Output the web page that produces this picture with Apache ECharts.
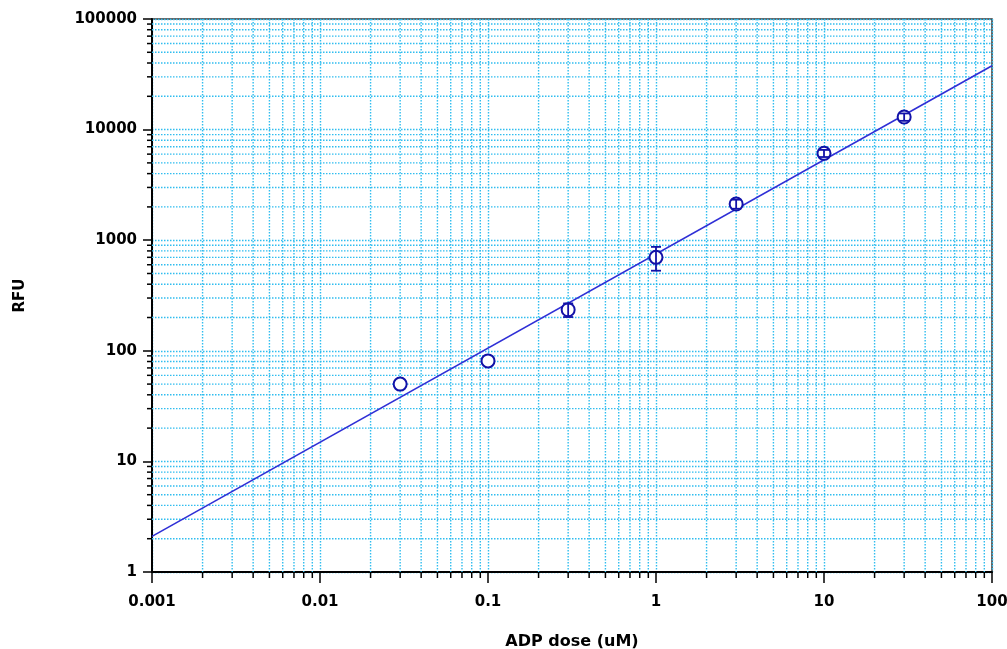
<!DOCTYPE html>
<html>
<head>
<meta charset="utf-8">
<script src="https://cdn.jsdelivr.net/npm/echarts@6/dist/echarts.min.js"></script>
<style>
html,body{margin:0;padding:0;background:#fff;}
#chart{width:1007px;height:649px;}
</style>
</head>
<body>
<div id="chart"></div>
<script>
// ---- data ----
const doses = [0.03, 0.1, 0.3, 1, 3, 10, 30];          // ADP dose (uM)
const rfuMean = [50, 81, 235, 700, 2125, 6100, 13000]; // RFU
const rfuSD = [0, 0, 33, 170, 200, 450, 1000];         // error bar half-length
const fitX = [0.001, 100];
const fitY = [2.1, 37800];
const xTickLabels = ['0.001', '0.01', '0.1', '1', '10', '100'];
const yTickLabels = ['1', '10', '100', '1000', '10000', '100000'];
const xDecades = [-3, -2, -1, 0, 1];
const yDecades = [0, 1, 2, 3, 4];
const minorMult = [2, 3, 4, 5, 6, 7, 8, 9];

const X_MIN = 0.001, X_MAX = 100, Y_MIN = 1, Y_MAX = 100000;
const gridColor = '#30bdef';
const dash = [1.5, 1.5];
const font = '"DejaVu Sans", sans-serif';

const xMinor = [];
xDecades.forEach(k => minorMult.forEach(m => xMinor.push([m * Math.pow(10, k), Y_MIN])));
const yMinor = [];
yDecades.forEach(k => minorMult.forEach(m => yMinor.push([X_MIN, m * Math.pow(10, k)])));

function labelFor(arr, minExp) {
  return function (v) {
    const e = Math.round(Math.log10(v)) - minExp;
    return arr[e] !== undefined ? arr[e] : '';
  };
}

const chart = echarts.init(document.getElementById('chart'), null, {renderer: 'canvas'});
chart.setOption({
  animation: false,
  backgroundColor: '#fff',
  grid: {left: 152, right: 15, top: 19, bottom: 77, containLabel: false, outerBoundsMode: 'none',
         show: true, borderColor: '#333', borderWidth: 1.5, backgroundColor: 'transparent'},
  xAxis: {
    type: 'log', logBase: 10, min: X_MIN, max: X_MAX, splitNumber: 5,
    name: 'ADP dose (uM)', nameLocation: 'middle', nameGap: 62,
    nameTextStyle: {fontFamily: font, fontWeight: 'bold', fontSize: 16, color: '#000'},
    axisLine: {onZero: false, lineStyle: {color: '#000', width: 2}},
    axisTick: {show: true, length: 11, lineStyle: {color: '#000', width: 1.5}},
    axisLabel: {margin: 23, fontFamily: font, fontWeight: 'bold', fontSize: 15, color: '#000', formatter: labelFor(xTickLabels, -3)},
    splitLine: {show: true, lineStyle: {color: gridColor, width: 1.4, type: dash}}
  },
  yAxis: {
    type: 'log', logBase: 10, min: Y_MIN, max: Y_MAX, splitNumber: 5,
    name: 'RFU', nameLocation: 'middle', nameGap: 124,
    nameTextStyle: {fontFamily: font, fontWeight: 'bold', fontSize: 15, color: '#000'},
    axisLine: {onZero: false, lineStyle: {color: '#000', width: 2}},
    axisTick: {show: true, length: 9, lineStyle: {color: '#000', width: 1.5}},
    axisLabel: {margin: 15, fontFamily: font, fontWeight: 'bold', fontSize: 15, color: '#000', formatter: labelFor(yTickLabels, 0)},
    splitLine: {show: true, lineStyle: {color: gridColor, width: 1.4, type: dash}}
  },
  series: [
    {
      type: 'custom', name: 'xMinor', silent: true, clip: false, z: 1,
      data: xMinor,
      renderItem: function (params, api) {
        const cs = params.coordSys;
        const x = api.coord([api.value(0), Y_MIN])[0];
        const yb = cs.y + cs.height;
        return {type: 'group', children: [
          {type: 'line', shape: {x1: x, y1: cs.y, x2: x, y2: yb}, style: {stroke: gridColor, lineWidth: 1.4, lineDash: dash}},
          {type: 'line', shape: {x1: x, y1: yb, x2: x, y2: yb + 6}, style: {stroke: '#000', lineWidth: 1.5}}
        ]};
      }
    },
    {
      type: 'custom', name: 'yMinor', silent: true, clip: false, z: 1,
      data: yMinor,
      renderItem: function (params, api) {
        const cs = params.coordSys;
        const y = api.coord([X_MIN, api.value(1)])[1];
        return {type: 'group', children: [
          {type: 'line', shape: {x1: cs.x, y1: y, x2: cs.x + cs.width, y2: y}, style: {stroke: gridColor, lineWidth: 1.4, lineDash: dash}},
          {type: 'line', shape: {x1: cs.x - 5, y1: y, x2: cs.x, y2: y}, style: {stroke: '#000', lineWidth: 1.5}}
        ]};
      }
    },
    {
      type: 'line', name: 'fit', z: 3, showSymbol: false, silent: true,
      data: fitX.map((x, i) => [x, fitY[i]]),
      lineStyle: {color: '#2f2fd6', width: 1.6}
    },
    {
      type: 'scatter', name: 'data', z: 4, symbol: 'circle', symbolSize: 13,
      data: doses.map((x, i) => [x, rfuMean[i]]),
      itemStyle: {color: '#fff', borderColor: '#1212a8', borderWidth: 2, opacity: 1}
    },
    {
      type: 'custom', name: 'err', z: 5, silent: true,
      data: doses.map((x, i) => [x, rfuMean[i], rfuSD[i]]),
      renderItem: function (params, api) {
        const sd = api.value(2);
        if (!sd) return null;
        const x = api.value(0), m = api.value(1);
        const top = api.coord([x, m + sd]);
        const bot = api.coord([x, m - sd]);
        const w = 5;
        const st = {stroke: '#1212a8', lineWidth: 1.8};
        return {type: 'group', children: [
          {type: 'line', shape: {x1: top[0], y1: top[1], x2: bot[0], y2: bot[1]}, style: st},
          {type: 'line', shape: {x1: top[0] - w, y1: top[1], x2: top[0] + w, y2: top[1]}, style: st},
          {type: 'line', shape: {x1: bot[0] - w, y1: bot[1], x2: bot[0] + w, y2: bot[1]}, style: st}
        ]};
      }
    }
  ]
});
</script>
</body>
</html>
